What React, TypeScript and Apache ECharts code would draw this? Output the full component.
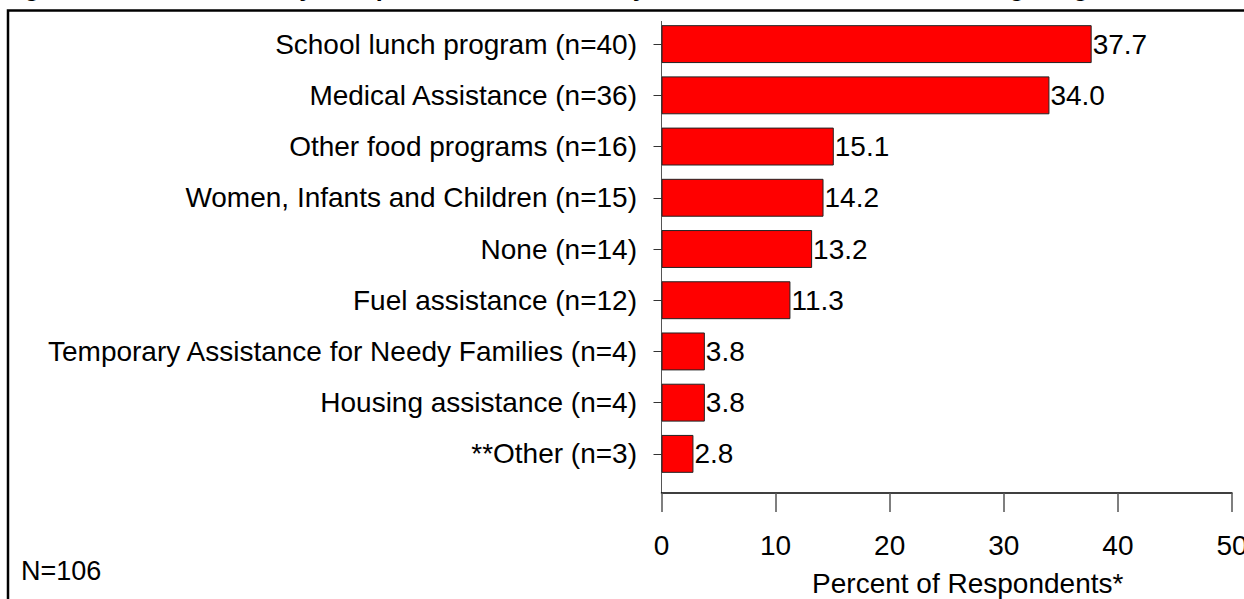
import React, { useEffect, useRef } from "react";
import * as echarts from "echarts";

const categories = [
  "School lunch program (n=40)",
  "Medical Assistance (n=36)",
  "Other food programs (n=16)",
  "Women, Infants and Children (n=15)",
  "None (n=14)",
  "Fuel assistance (n=12)",
  "Temporary Assistance for Needy Families (n=4)",
  "Housing assistance (n=4)",
  "**Other (n=3)",
];
const values = [37.7, 34.0, 15.1, 14.2, 13.2, 11.3, 3.8, 3.8, 2.8];
const xMin = 0;
const xMax = 50;
const xInterval = 10;
const titleText =
  "Figure 12: Other Monetary Compensation Received by Household Members Receiving Program Services";
const axisTitle = "Percent of Respondents*";
const footnote = "N=106";

const FONT = "'Liberation Sans', Arial, Helvetica, sans-serif";

export default function App() {
  const ref = useRef<HTMLDivElement>(null);
  useEffect(() => {
    if (!ref.current) return;
    const chart = echarts.init(ref.current, null, { renderer: "svg" });
    chart.setOption({
      animation: false,
      backgroundColor: "#ffffff",
      textStyle: { fontFamily: FONT },
      grid: {
        left: 661.5,
        right: 12,
        top: 18.5,
        bottom: 119.5,
        containLabel: false,
        outerBoundsMode: "none",
      },
      xAxis: {
        type: "value",
        min: xMin,
        max: xMax,
        interval: xInterval,
        offset: 13.5,
        splitLine: { show: false },
        axisLine: { show: true, lineStyle: { color: "#000", width: 1.5 } },
        axisTick: { show: true, length: 19, lineStyle: { color: "#555", width: 1.5 } },
        axisLabel: { margin: 38, fontSize: 28, color: "#000", fontFamily: FONT },
        name: axisTitle,
        nameLocation: "middle",
        nameGap: 76,
        nameTextStyle: { fontSize: 28, color: "#000", fontFamily: FONT, padding: [0, 0, 0, 42] },
      },
      yAxis: {
        type: "category",
        inverse: true,
        data: categories,
        offset: 8.5,
        axisLine: { show: false },
        axisTick: { show: true, alignWithLabel: true, length: 8, lineStyle: { color: "#333", width: 1 } },
        axisLabel: { margin: 16, fontSize: 28, color: "#000", fontFamily: FONT },
        splitLine: { show: false },
      },
      series: [
        {
          type: "bar",
          data: values,
          barCategoryGap: "26%",
          itemStyle: { color: "#ff0000", borderColor: "#222", borderWidth: 1 },
          label: {
            show: true,
            position: "right",
            distance: 1,
            fontSize: 28,
            color: "#000",
            fontFamily: FONT,
            formatter: (p: any) => Number(p.value).toFixed(1),
          },
        },
      ],
      graphic: [
        {
          type: "rect",
          shape: { x: 8, y: 10.5, width: 1400, height: 800 },
          style: { fill: "none", stroke: "#000", lineWidth: 2.5 },
          silent: true,
        },
        {
          type: "text",
          x: 2,
          y: -13,
          style: {
            text: titleText,
            fontSize: 25,
            fontWeight: "bold",
            fontFamily: FONT,
            fill: "#000",
            verticalAlign: "middle",
            align: "left",
          },
        },
        {
          type: "line",
          shape: { x1: 661.5, y1: 21, x2: 661.5, y2: 493 },
          style: { stroke: "#555", lineWidth: 1 },
          silent: true,
        },
        {
          type: "text",
          x: 21,
          y: 571,
          style: {
            text: footnote,
            fontSize: 27,
            fontFamily: FONT,
            fill: "#000",
            verticalAlign: "middle",
            align: "left",
          },
        },
      ],
    });
    return () => chart.dispose();
  }, []);
  return (
    <div
      ref={ref}
      style={{ position: "absolute", left: 0, top: 0, width: 1244, height: 599 }}
    />
  );
}
